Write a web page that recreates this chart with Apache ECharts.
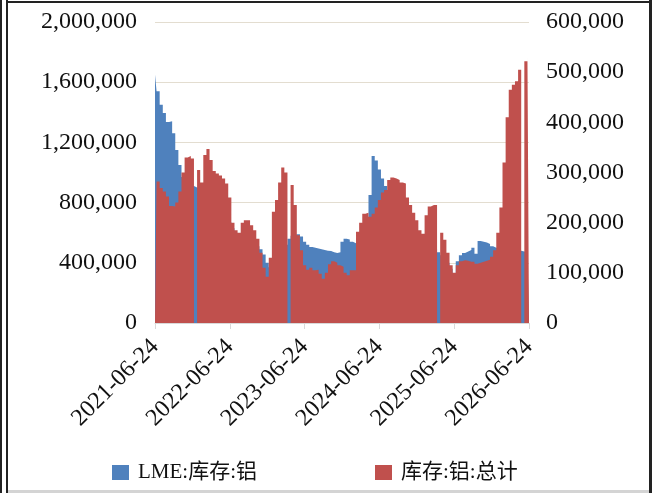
<!DOCTYPE html>
<html>
<head>
<meta charset="utf-8">
<script src="https://cdn.jsdelivr.net/npm/echarts@6/dist/echarts.min.js"></script>
<style>
  html, body { margin: 0; padding: 0; background: #fff; }
  .wrap { position: relative; width: 652px; height: 493px; }
  #chart { width: 652px; height: 493px; }
  .ln { position: absolute; pointer-events: none; }
</style>
</head>
<body>
<div class="wrap">
  <div id="chart"></div>
  <div class="ln" style="left:0;top:0;width:2px;height:493px;background:#222"></div>
  <div class="ln" style="left:6px;top:0;width:2px;height:493px;background:#222"></div>
  <div class="ln" style="left:6px;top:1px;width:646px;height:2px;background:#222"></div>
  <div class="ln" style="left:649px;top:0;width:3px;height:493px;background:#222"></div>
  <div class="ln" style="left:8px;top:490px;width:641px;height:3px;background:#d4d4d4"></div>
</div>
<script>
// 横轴刻度标签(每 24 个采样点一个)
const tickLabels = ['2021-06-24', '2022-06-24', '2023-06-24', '2024-06-24', '2025-06-24', '2026-06-24']
const perTick = 24

// LME:库存:铝 (左轴, 千吨)
const lmeStock = [
  1650, 1540, 1450, 1395, 1335, 1340, 1260, 1150, 1050, 970,
  950, 930, 910, 900, 890, 870, 850, 830, 810, 790,
  770, 750, 730, 700, 670, 630, 590, 560, 550, 545,
  540, 535, 525, 510, 490, 455, 400, 370, 380, 400,
  430, 470, 520, 560, 580, 590, 590, 575, 540, 520,
  505, 500, 495, 490, 485, 480, 478, 470, 465, 470,
  540, 560, 555, 540, 530, 540, 560, 580, 620, 850,
  1110, 1080, 1020, 960, 910, 880, 850, 820, 790, 760,
  730, 700, 670, 640, 610, 580, 560, 540, 520, 505,
  490, 470, 450, 430, 400, 360, 320, 410, 450, 465,
  475, 485, 500, 460, 545, 540, 535, 525, 510, 500,
  500, 500, 495, 490, 490, 485, 480, 480, 475, 470,
  470
]

// 库存:铝:总计 (右轴, 千吨)
const totalStock = [
  0, 282, 269, 262, 252, 233, 232, 240, 262, 300,
  330, 333, 328, 0, 305, 280, 335, 347, 325, 303,
  298, 294, 288, 278, 250, 200, 185, 180, 200, 205,
  205, 195, 185, 168, 140, 110, 92, 130, 222, 245,
  280, 310, 300, 0, 275, 235, 175, 145, 115, 106,
  110, 105, 106, 98, 88, 100, 117, 123, 120, 115,
  112, 100, 95, 105, 105, 182, 200, 218, 220, 212,
  218, 230, 245, 260, 265, 285, 290, 288, 285, 280,
  278, 250, 235, 220, 205, 185, 178, 215, 232, 235,
  235, 0, 180, 166, 140, 115, 100, 115, 123, 125,
  124, 122, 122, 118, 120, 122, 124, 126, 132, 145,
  180, 230, 320, 410, 465, 475, 482, 505, 0, 522,
  530
]

const categories = lmeStock.map((v, i) => i)
const fontFamily = "'Liberation Serif', 'Noto Sans CJK SC', serif"
const fmt = v => Number(v).toLocaleString('en-US')
const showTick = i => i % perTick === 0

const chart = echarts.init(document.getElementById('chart'))
chart.setOption({
  animation: false,
  backgroundColor: '#fff',
  grid: { left: 155, right: 123, top: 22, bottom: 170, containLabel: false },
  legend: [
    {
      left: 107, top: 457, itemWidth: 17, itemHeight: 15,
      data: [{ name: 'LME:库存:铝', icon: 'rect' }],
      textStyle: { fontFamily, fontSize: 21, color: '#111', padding: [0, 0, 0, 4] }
    },
    {
      left: 370, top: 457, itemWidth: 17, itemHeight: 15,
      data: [{ name: '库存:铝:总计', icon: 'rect' }],
      textStyle: { fontFamily, fontSize: 21, color: '#111', padding: [0, 0, 0, 4] }
    }
  ],
  xAxis: {
    type: 'category',
    data: categories,
    boundaryGap: false,
    axisLine: { show: true, lineStyle: { color: '#d9d9d9' } },
    axisTick: { show: true, interval: showTick, length: 6, lineStyle: { color: '#d9d9d9' } },
    axisLabel: {
      interval: showTick,
      rotate: 45,
      margin: 20,
      fontFamily, fontSize: 24, color: '#111',
      formatter: (v, i) => tickLabels[i / perTick]
    }
  },
  yAxis: [
    {
      type: 'value', min: 0, max: 2000000, interval: 400000,
      axisLine: { show: false }, axisTick: { show: false },
      splitLine: { lineStyle: { color: '#e3ddd0', width: 1 } },
      axisLabel: { margin: 18, fontFamily, fontSize: 24, color: '#111', formatter: fmt }
    },
    {
      type: 'value', min: 0, max: 600000, interval: 100000,
      axisLine: { show: false }, axisTick: { show: false },
      splitLine: { show: false },
      axisLabel: { margin: 17, fontFamily, fontSize: 24, color: '#111', formatter: fmt }
    }
  ],
  series: [
    {
      name: 'LME:库存:铝',
      type: 'line',
      yAxisIndex: 0,
      step: 'middle',
      symbol: 'none',
      color: '#4f81bd',
      lineStyle: { width: 0 },
      areaStyle: { color: '#4f81bd', opacity: 1 },
      data: lmeStock.map(v => v * 1000)
    },
    {
      name: '库存:铝:总计',
      type: 'line',
      yAxisIndex: 1,
      step: 'middle',
      symbol: 'none',
      color: '#c0504d',
      lineStyle: { width: 0 },
      areaStyle: { color: '#c0504d', opacity: 1 },
      data: totalStock.map(v => v * 1000)
    }
  ]
})
</script>
</body>
</html>
